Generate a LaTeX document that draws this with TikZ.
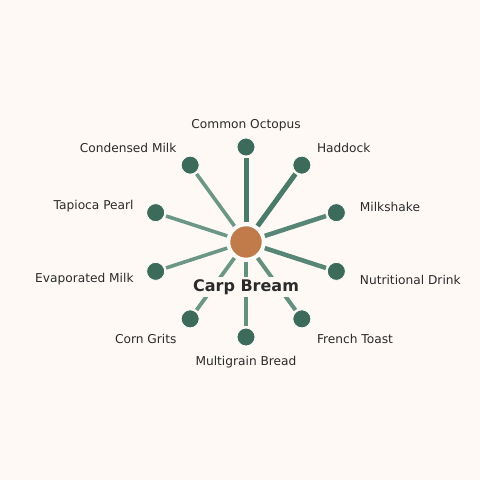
\documentclass[tikz,border=0pt]{standalone}
\usepackage{fontspec}
\setmainfont{DejaVu Sans}
\usetikzlibrary{calc}
\definecolor{bgc}{HTML}{FEF9F5}
\definecolor{nodec}{HTML}{3D6B5B}
\definecolor{centc}{HTML}{C17A4A}
\definecolor{txtc}{HTML}{2B2B2B}
\definecolor{lineA}{HTML}{4A7A69}
\definecolor{lineB}{HTML}{578676}
\definecolor{lineC}{HTML}{64917F}
\definecolor{lineD}{HTML}{6C9787}
\tikzset{
  leaf/.style={circle, fill=nodec, draw=white, line width=0.8bp, minimum size=18bp, inner sep=0pt},
  hub/.style={circle, fill=centc, draw=white, line width=1.5bp, minimum size=33bp, inner sep=0pt},
  lbl/.style={text=txtc, font=\fontsize{12.2bp}{14bp}\selectfont, inner sep=0pt},
  spoke/.style={line cap=butt, shorten <=2.5bp, shorten >=1.5bp},
}
\begin{document}
\begin{tikzpicture}[x=1bp,y=1bp]
\fill[bgc] (0,0) rectangle (480,480);
\useasboundingbox (0,0) rectangle (480,480);
\coordinate (o) at (246,238);
\coordinate (lo) at (246,237);
\coordinate (lr) at (247.5,237);
\node[hub] (c) at (o) {};
% leaves
\node[leaf] (n1) at ($(o)+(90:95)$) {};
\node[leaf] (n2) at ($(o)+(54:95)$) {};
\node[leaf] (n3) at ($(o)+(18:95)$) {};
\node[leaf] (n4) at ($(o)+(-18:95)$) {};
\node[leaf] (n5) at ($(o)+(-54:95)$) {};
\node[leaf] (n6) at ($(o)+(-90:95)$) {};
\node[leaf] (n7) at ($(o)+(-126:95)$) {};
\node[leaf] (n8) at ($(o)+(-162:95)$) {};
\node[leaf] (n9) at ($(o)+(162:95)$) {};
\node[leaf] (n10) at ($(o)+(126:95)$) {};
% spokes
\draw[spoke, lineA, line width=5bp] (c) -- (n1);
\draw[spoke, lineA, line width=5bp] (c) -- (n2);
\draw[spoke, lineB, line width=4.5bp] (c) -- (n3);
\draw[spoke, lineB, line width=4.5bp] (c) -- (n4);
\draw[spoke, lineC, line width=4bp] (c) -- (n5);
\draw[spoke, lineC, line width=4bp] (c) -- (n6);
\draw[spoke, lineD, line width=3.8bp] (c) -- (n7);
\draw[spoke, lineD, line width=3.6bp] (c) -- (n8);
\draw[spoke, lineD, line width=3.6bp] (c) -- (n9);
\draw[spoke, lineD, line width=3.6bp] (c) -- (n10);
% labels
\node[lbl, anchor=center] (l1) at ($(lo)+(90:118)$) {Common Octopus};
\node[lbl, anchor=west] (l2) at ($(lr)+(54:118)$) {Haddock};
\node[lbl, anchor=west] (l3) at ($(lr)+(18:118)$) {Milkshake};
\node[lbl, anchor=west] (l4) at ($(lr)+(-18:118)$) {Nutritional Drink};
\node[lbl, anchor=west] (l5) at ($(lr)+(-54:118)$) {French Toast};
\node[lbl, anchor=center] (l6) at ($(lo)+(-90:119)$) {Multigrain Bread};
\node[lbl, anchor=east] (l7) at ($(lo)+(-126:118)$) {Corn Grits};
\node[lbl, anchor=east] (l8) at ($(lo)+(-162:118)$) {Evaporated Milk};
\node[lbl, anchor=east] (l9) at ($(lo)+(162:118)$) {Tapioca Pearl};
\node[lbl, anchor=east] (l10) at ($(lo)+(126:118)$) {Condensed Milk};
% title
\node[fill=bgc, text=txtc, inner sep=2.5bp, font=\bfseries\fontsize{16bp}{18bp}\selectfont] (t) at (246,193) {Carp Bream};
\end{tikzpicture}
\end{document}
